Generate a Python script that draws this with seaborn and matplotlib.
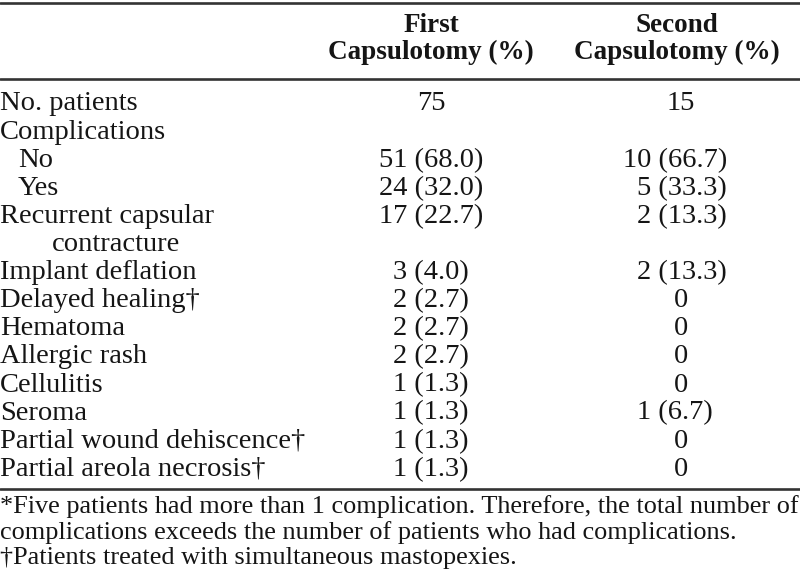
import matplotlib.pyplot as plt
import seaborn as sns

# table content
row_labels = ["No. patients", "Complications", "No", "Yes",
              "Recurrent capsular\ncontracture", "Implant deflation",
              "Delayed healing\u2020", "Hematoma", "Allergic rash", "Cellulitis",
              "Seroma", "Partial wound dehiscence\u2020", "Partial areola necrosis\u2020"]
first_capsulotomy = ["75", "", "51 (68.0)", "24 (32.0)", "17 (22.7)", "3 (4.0)",
                     "2 (2.7)", "2 (2.7)", "2 (2.7)", "1 (1.3)", "1 (1.3)",
                     "1 (1.3)", "1 (1.3)"]
second_capsulotomy = ["15", "", "10 (66.7)", "5 (33.3)", "2 (13.3)", "2 (13.3)",
                      "0", "0", "0", "0", "1 (6.7)", "0", "0"]
col_headers = [("First", "Capsulotomy (%)"), ("Second", "Capsulotomy (%)")]
footnotes = ["*Five patients had more than 1 complication. Therefore, the total number of",
             "complications exceeds the number of patients who had complications.",
             "\u2020Patients treated with simultaneous mastopexies."]
sub_rows = {"No", "Yes"}

sns.set_theme(style="white")
plt.rcParams["font.family"] = ["Liberation Serif", "DejaVu Serif"]

fig = plt.figure(figsize=(8, 5.81), dpi=100)
ax = fig.add_axes([0, 0, 1, 1])
ax.set_xlim(0, 800)
ax.set_ylim(581, 0)
ax.axis("off")

ink = "#151515"
fs = 20.5
col_x = [431, 677]
row_h = 28.1
digit_w = fs * 0.5 * 100 / 72  # width of one figure in px

# rules
for yy in (3, 79, 489):
    ax.axhline(yy, color="#333333", lw=1.9)

# headers
for x, (h1, h2) in zip(col_x, col_headers):
    ax.text(x, 25, h1, ha="center", va="center", fontsize=19.5, fontweight="bold", color=ink)
    ax.text(x, 52, h2, ha="center", va="center", fontsize=19.5, fontweight="bold", color=ink)


def second_col(y, v):
    # counts are digit-aligned in the second column, plain values centred
    if "(" in v:
        n = len(v.split(" ")[0])
        ax.text(623 + (2 - n) * digit_w, y, v, ha="left", va="center", fontsize=fs, color=ink)
    else:
        ax.text(col_x[1] + 4, y, v, ha="center", va="center", fontsize=fs, color=ink)


y = 104
for lab, v1, v2 in zip(row_labels, first_capsulotomy, second_capsulotomy):
    lines = lab.split("\n")
    x0 = 18 if lab in sub_rows else 0
    ax.text(x0, y, lines[0], ha="left", va="center", fontsize=fs, color=ink)
    ax.text(col_x[0], y, v1, ha="center", va="center", fontsize=fs, color=ink)
    second_col(y, v2)
    for extra in lines[1:]:
        y += row_h
        ax.text(52, y, extra, ha="left", va="center", fontsize=fs, color=ink)
    y += row_h

fy = 507
for line in footnotes:
    ax.text(0, fy, line, ha="left", va="center", fontsize=18.9, color=ink)
    fy += 25.3

fig.savefig("out.png", dpi=100)
